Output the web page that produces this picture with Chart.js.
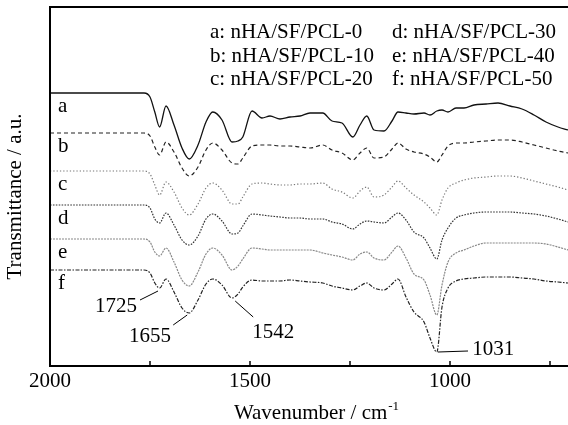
<!DOCTYPE html>
<html>
<head>
<meta charset="utf-8">
<script src="https://cdn.jsdelivr.net/npm/chart.js@4.4.0/dist/chart.umd.min.js"></script>
<style>
  html, body { margin: 0; padding: 0; background: #fff; }
  #wrap { width: 568px; height: 425px; }
</style>
</head>
<body>
<div id="wrap"><canvas id="myChart" width="568" height="425"></canvas></div>
<script>
// wavenumber (cm-1) points
const wavenumbers = [2000, 1765, 1750, 1738, 1726, 1710, 1690, 1670, 1652, 1630,
  1610, 1593, 1570, 1545, 1530, 1518, 1495, 1470, 1450, 1425,
  1400, 1375, 1350, 1318, 1295, 1270, 1243, 1225, 1208, 1190,
  1165, 1145, 1130, 1110, 1090, 1065, 1050, 1033, 1020, 1005,
  985, 965, 940, 910, 880, 850, 820, 790, 760, 730, 705];

// transmittance (a.u., curves already stacked)
const curveA = [273, 273, 269, 254, 239, 260, 241, 218, 207, 221,
  244, 254, 246, 224, 225, 229, 255, 248, 250, 247,
  249, 250, 253, 253, 245, 243, 229, 241, 250, 236,
  235, 245, 254, 253, 252, 253, 251, 255, 256, 254,
  258, 258, 261, 262, 263, 260, 257, 251, 244, 239, 236];
const curveB = [233, 233, 230, 219, 211, 224, 214, 198, 190, 199,
  216, 223, 216, 203, 202, 208, 220, 221, 221, 220,
  220, 219, 218, 221, 216, 213, 206, 213, 218, 208,
  209, 217, 223, 217, 214, 212, 209, 204, 211, 220,
  223, 223, 224, 225, 226, 226, 224, 221, 218, 215, 213];
const curveC = [195, 195, 192, 181, 171, 184, 174, 158, 151, 162,
  178, 183, 176, 162, 162, 169, 182, 183, 182, 181,
  181, 182, 182, 183, 177, 174, 168, 175, 179, 169,
  171, 179, 185, 178, 171, 164, 158, 151, 166, 178,
  183, 186, 188, 189, 190, 190, 188, 185, 182, 179, 176];
const curveD = [161, 161, 158, 147, 143, 153, 141, 126, 121, 130,
  147, 152, 145, 132, 133, 140, 152, 151, 150, 149,
  148, 148, 147, 147, 144, 142, 137, 142, 145, 144,
  143, 149, 153, 146, 134, 128, 118, 107, 126, 138,
  148, 151, 153, 154, 154, 154, 153, 152, 150, 147, 144];
const curveE = [127, 127, 124, 114, 110, 118, 104, 86, 80, 94,
  112, 118, 111, 96, 100, 107, 118, 117, 116, 116,
  116, 116, 116, 113, 111, 109, 106, 112, 114, 108,
  106, 114, 120, 108, 92, 86, 71, 51, 81, 104,
  113, 116, 120, 123, 123, 123, 123, 123, 122, 119, 116];
const curveF = [96, 96, 93, 83, 78, 87, 74, 58, 53, 66,
  82, 87, 81, 68, 72, 79, 86, 85, 85, 85,
  86, 85, 84, 83, 80, 78, 76, 80, 83, 78,
  76, 82, 87, 69, 54, 44, 28, 14, 59, 78,
  85, 87, 88, 89, 89, 89, 88, 87, 85, 84, 83];

const curveNames = ['a', 'b', 'c', 'd', 'e', 'f'];
const sampleNames = ['nHA/SF/PCL-0', 'nHA/SF/PCL-10', 'nHA/SF/PCL-20',
  'nHA/SF/PCL-30', 'nHA/SF/PCL-40', 'nHA/SF/PCL-50'];

const tickValues = [2000, 1750, 1500, 1250, 1000, 750];
const tickLabels = ['2000', '', '1500', '', '1000', ''];

// peak labels: text centre and leader line ends, in wavenumber / a.u.
const peakLabels = [
  { text: '1725', tx: 1835, ty: 60, x1: 1775, y1: 66, x2: 1730, y2: 75 },
  { text: '1655', tx: 1750, ty: 30, x1: 1692, y1: 41, x2: 1657, y2: 51 },
  { text: '1542', tx: 1442, ty: 34, x1: 1492, y1: 49, x2: 1537, y2: 65 },
  { text: '1031', tx: 892, ty: 17, x1: 1030, y1: 14, x2: 955, y2: 15 }
];

const FONT = '21px "Liberation Serif", "Times New Roman", serif';

function toPoints(vals) {
  return wavenumbers.map((w, i) => ({ x: w, y: vals[i] }));
}

const styles = [
  { color: '#111', dash: [], width: 1.3 },
  { color: '#222', dash: [4, 3], width: 1.2 },
  { color: '#777', dash: [1.3, 2], width: 1.2 },
  { color: '#333', dash: [1.6, 1.3], width: 1.2 },
  { color: '#888', dash: [2, 1], width: 1.2 },
  { color: '#222', dash: [4, 1.5, 1.5, 1.5], width: 1.2 }
];

const allCurves = [curveA, curveB, curveC, curveD, curveE, curveF];

const framePlugin = {
  id: 'frame',
  afterDraw(chart) {
    const ctx = chart.ctx;
    const area = chart.chartArea;
    const xs = chart.scales.x;
    const ys = chart.scales.y;
    ctx.save();
    ctx.strokeStyle = '#000';
    ctx.fillStyle = '#000';
    ctx.lineWidth = 2;
    ctx.beginPath();
    ctx.moveTo(area.right + 2, area.top);
    ctx.lineTo(area.left, area.top);
    ctx.lineTo(area.left, area.bottom);
    ctx.lineTo(area.right + 2, area.bottom);
    ctx.stroke();

    ctx.font = FONT;
    ctx.textAlign = 'center';
    ctx.textBaseline = 'middle';
    ctx.lineWidth = 1.5;
    tickValues.forEach((v, i) => {
      const px = xs.getPixelForValue(v);
      ctx.beginPath();
      ctx.moveTo(px, area.bottom);
      ctx.lineTo(px, area.bottom - 5);
      ctx.stroke();
      if (tickLabels[i]) ctx.fillText(tickLabels[i], px, area.bottom + 15);
    });

    // x title with superscript
    const t1 = 'Wavenumber / cm';
    const w1 = ctx.measureText(t1).width;
    ctx.font = '13px "Liberation Serif", serif';
    const w2 = ctx.measureText('-1').width;
    const cx = (area.left + area.right) / 2 + 7;
    const startX = cx - (w1 + w2) / 2;
    ctx.textAlign = 'left';
    ctx.font = FONT;
    ctx.fillText(t1, startX, area.bottom + 47);
    ctx.font = '13px "Liberation Serif", serif';
    ctx.fillText('-1', startX + w1 + 1, area.bottom + 41);

    // y title
    ctx.font = FONT;
    ctx.save();
    ctx.translate(15, (area.top + area.bottom) / 2 + 10);
    ctx.rotate(-Math.PI / 2);
    ctx.textAlign = 'center';
    ctx.fillText('Transmittance / a.u.', 0, 0);
    ctx.restore();

    // curve letters
    ctx.textAlign = 'left';
    curveNames.forEach((n, i) => {
      const py = ys.getPixelForValue(allCurves[i][0]);
      ctx.fillText(n, area.left + 8, py + 13);
    });

    // legend text, two columns
    ctx.textBaseline = 'alphabetic';
    for (let i = 0; i < 3; i++) {
      ctx.fillText(curveNames[i] + ': ' + sampleNames[i], area.left + 160, area.top + 31 + i * 23.5);
      ctx.fillText(curveNames[i + 3] + ': ' + sampleNames[i + 3], area.left + 342, area.top + 31 + i * 23.5);
    }

    // peak labels
    ctx.textAlign = 'center';
    ctx.textBaseline = 'middle';
    ctx.lineWidth = 1;
    peakLabels.forEach(p => {
      ctx.fillText(p.text, xs.getPixelForValue(p.tx), ys.getPixelForValue(p.ty));
      ctx.beginPath();
      ctx.moveTo(xs.getPixelForValue(p.x1), ys.getPixelForValue(p.y1));
      ctx.lineTo(xs.getPixelForValue(p.x2), ys.getPixelForValue(p.y2));
      ctx.stroke();
    });
    ctx.restore();
  }
};

const ctx = document.getElementById('myChart').getContext('2d');
const chart = new Chart(ctx, {
  type: 'line',
  data: {
    datasets: allCurves.map((vals, i) => ({
      label: curveNames[i],
      data: toPoints(vals),
      borderColor: styles[i].color,
      borderDash: styles[i].dash,
      borderWidth: styles[i].width,
      pointRadius: 0,
      fill: false,
      cubicInterpolationMode: 'monotone'
    }))
  },
  options: {
    responsive: false,
    animation: false,
    layout: { padding: { left: 50, top: 7, right: 0, bottom: 59 } },
    plugins: { legend: { display: false }, tooltip: { enabled: false } },
    scales: {
      x: { type: 'linear', reverse: true, min: 705, max: 2000, display: false },
      y: { type: 'linear', min: 0, max: 359, display: false }
    }
  },
  plugins: [framePlugin]
});
</script>
</body>
</html>
